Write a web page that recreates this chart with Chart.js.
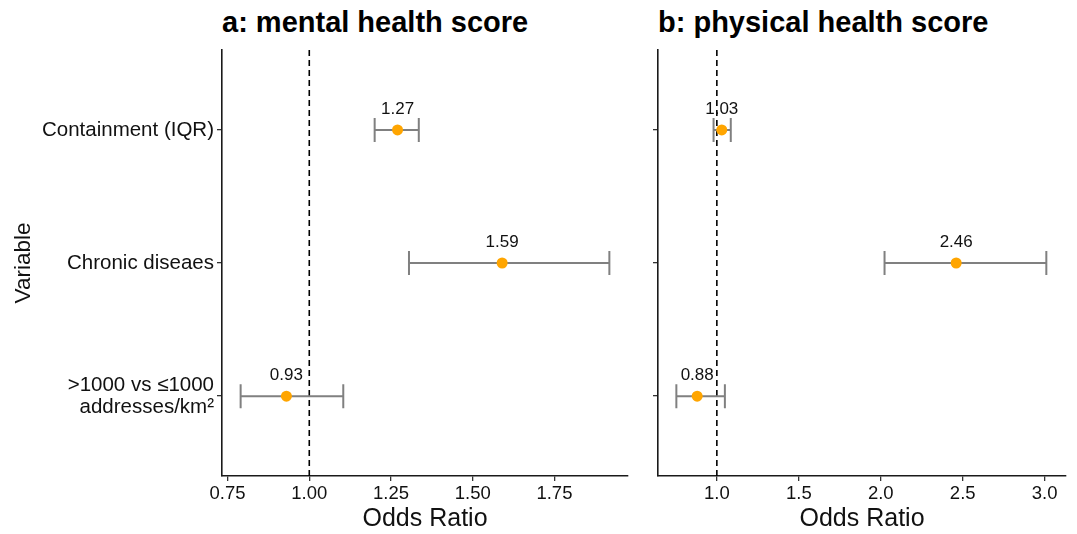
<!DOCTYPE html>
<html>
<head>
<meta charset="utf-8">
<script src="https://cdn.jsdelivr.net/npm/chart.js@4/dist/chart.umd.min.js"></script>
<style>
  body { margin: 0; background: #fff; width: 1077px; height: 534px; position: relative; overflow: hidden; }
  canvas { position: absolute; top: 0; }
  .ttl { position: absolute; top: 6px; font: bold 29px "Liberation Sans", Arial, sans-serif; color: #000; line-height: 32px; white-space: nowrap; }
</style>
</head>
<body>
<div class="ttl" style="left:222px">a: mental health score</div>
<div class="ttl" style="left:658px">b: physical health score</div>
<canvas id="cA" width="640" height="534" style="left:0"></canvas>
<canvas id="cB" width="437" height="534" style="left:640px"></canvas>
<script>
// categories, bottom to top is 1..3
const categorias = ["Containment (IQR)", "Chronic diseaes", [">1000 vs \u22641000", "addresses/km\u00b2"]];
const posY = [3, 2, 1];

// a: mental health
const orMental = [1.27, 1.59, 0.93];
const loMental = [1.20, 1.305, 0.79];
const hiMental = [1.335, 1.918, 1.104];
const ticksMental = [0.75, 1.00, 1.25, 1.50, 1.75];

// b: physical health
const orFisica = [1.03, 2.46, 0.88];
const loFisica = [0.98, 2.023, 0.753];
const hiFisica = [1.085, 3.01, 1.049];
const ticksFisica = [1.0, 1.5, 2.0, 2.5, 3.0];

const fuente = '"Liberation Sans", Arial, sans-serif';

// error bars, reference line and value labels
const forestPlugin = {
  id: "forest",
  beforeDatasetsDraw(chart) {
    const ctx = chart.ctx;
    const x = chart.scales.x, y = chart.scales.y;
    const area = chart.chartArea;
    const ds = chart.data.datasets[0];
    // dashed line at 1
    ctx.save();
    ctx.strokeStyle = "#000";
    ctx.lineWidth = 1.6;
    ctx.setLineDash([6, 4]);
    ctx.beginPath();
    ctx.moveTo(x.getPixelForValue(1), area.top);
    ctx.lineTo(x.getPixelForValue(1), area.bottom);
    ctx.stroke();
    ctx.setLineDash([]);
    ctx.strokeStyle = "#808080";
    ctx.lineWidth = 2;
    ds.lo.forEach((lo, i) => {
      const py = y.getPixelForValue(ds.data[i].y);
      const x1 = x.getPixelForValue(lo);
      const x2 = x.getPixelForValue(ds.hi[i]);
      ctx.beginPath();
      ctx.moveTo(x1, py); ctx.lineTo(x2, py);
      ctx.moveTo(x1, py - 12); ctx.lineTo(x1, py + 12);
      ctx.moveTo(x2, py - 12); ctx.lineTo(x2, py + 12);
      ctx.stroke();
    });
    ctx.restore();
  },
  afterDatasetsDraw(chart) {
    const ctx = chart.ctx;
    const x = chart.scales.x, y = chart.scales.y;
    const ds = chart.data.datasets[0];
    ctx.save();
    ctx.fillStyle = "#111";
    ctx.font = "17px " + fuente;
    ctx.textAlign = "center";
    ctx.textBaseline = "middle";
    ds.data.forEach((p) => {
      ctx.fillText(p.x.toFixed(2), x.getPixelForValue(p.x), y.getPixelForValue(p.y) - 21);
    });
    ctx.restore();
  },
};

function crear(id, or, lo, hi, ticks, xmin, xmax, decimales, opts) {
  const datos = or.map((v, i) => ({ x: v, y: posY[i] }));
  return new Chart(document.getElementById(id), {
    type: "scatter",
    data: {
      datasets: [{
        data: datos,
        lo: lo,
        hi: hi,
        backgroundColor: "#FFA500",
        borderColor: "#FFA500",
        pointRadius: 5.5,
        pointBorderWidth: 0,
      }],
    },
    options: {
      responsive: false,
      animation: false,
      layout: { padding: { top: 50, right: opts.padRight, left: 0, bottom: 0 } },
      plugins: { legend: { display: false }, tooltip: { enabled: false } },
      scales: {
        x: {
          type: "linear",
          min: xmin,
          max: xmax,
          afterBuildTicks: (s) => { s.ticks = ticks.map((v) => ({ value: v })); },
          afterFit: (s) => { s.height = 58; },
          border: { display: true, color: "#1a1a1a", width: 1.6 },
          grid: { drawOnChartArea: false, drawTicks: true, tickLength: 5, color: "#333", lineWidth: 1.3 },
          ticks: {
            color: "#111",
            font: { family: fuente, size: 18.5 },
            padding: 2,
            maxRotation: 0,
            callback: (v) => Number(v).toFixed(decimales),
          },
          title: {
            display: true,
            text: "Odds Ratio",
            color: "#111",
            font: { family: fuente, size: 25 },
            padding: { top: 0, bottom: 0 },
          },
        },
        y: {
          type: "linear",
          min: 0.4,
          max: 3.6,
          afterBuildTicks: (s) => { s.ticks = posY.map((v) => ({ value: v })); },
          afterFit: (s) => { s.width = opts.yWidth; },
          border: { display: true, color: "#1a1a1a", width: 1.6 },
          grid: { drawOnChartArea: false, drawTicks: true, tickLength: 5, color: "#333", lineWidth: 1.3 },
          ticks: {
            color: "#111",
            font: { family: fuente, size: 20.5, lineHeight: 1.08 },
            padding: 3,
            callback: (v) => {
              if (!opts.labels) return "";
              const i = posY.indexOf(v);
              return i >= 0 ? categorias[i] : "";
            },
          },
          title: {
            display: opts.labels,
            text: "Variable",
            color: "#111",
            font: { family: fuente, size: 22.5 },
            padding: { top: 10, bottom: 0 },
          },
        },
      },
    },
    plugins: [forestPlugin],
  });
}

crear("cA", orMental, loMental, hiMental, ticksMental, 0.733, 1.975, 2, { padRight: 12, yWidth: 222, labels: true });
crear("cB", orFisica, loFisica, hiFisica, ticksFisica, 0.641, 3.13, 1, { padRight: 11, yWidth: 18, labels: false });
</script>
</body>
</html>
